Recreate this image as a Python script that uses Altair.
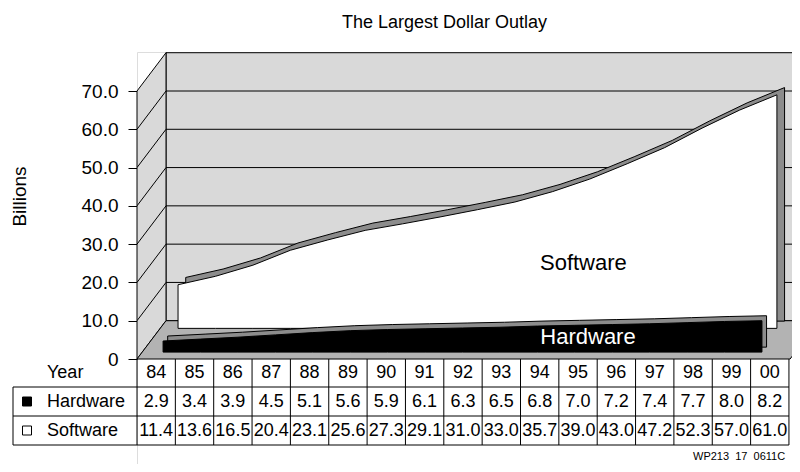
import altair as alt
import pandas as pd

# ---------------- data ----------------
years = ["84", "85", "86", "87", "88", "89", "90", "91", "92", "93",
         "94", "95", "96", "97", "98", "99", "00"]
hardware = [2.9, 3.4, 3.9, 4.5, 5.1, 5.6, 5.9, 6.1, 6.3, 6.5, 6.8, 7.0, 7.2, 7.4, 7.7, 8.0, 8.2]
software = [11.4, 13.6, 16.5, 20.4, 23.1, 25.6, 27.3, 29.1, 31.0, 33.0, 35.7, 39.0, 43.0,
            47.2, 52.3, 57.0, 61.0]
row_labels = ["Year", "Hardware", "Software"]
y_ticks = [0, 10, 20, 30, 40, 50, 60, 70]
title_text = "The Largest Dollar Outlay"
y_title = "Billions"
footer_text = "WP213\u00a0\u00a017\u00a0\u00a00611C"

# ---------------- layout (pixel geometry expressed in data units) ----------------
FONT = "Liberation Sans"
COL_PX = 38.35                 # one table column
UNIT_PX = 268.0 / 70.0         # pixels per billion on the front axis
PLOT_W, PLOT_H = 655, 412
X_MAX = PLOT_W / COL_PX
Y_TOP = 307.0 / UNIT_PX
Y_BOT = Y_TOP - PLOT_H / UNIT_PX
DEPTH_X = 29.0 / COL_PX        # 3-D depth offset
DEPTH_Y = 10.0
N = len(years)
STEP = 0.976                   # spacing of categories in the 3-D plot
FLOOR_X = 17.03
TABLE_LEFT = -124.0 / COL_PX
ROW_EDGES = [0.0, -28.0 / UNIT_PX, -57.0 / UNIT_PX, -86.0 / UNIT_PX]
ROW_MID = [(ROW_EDGES[k] + ROW_EDGES[k + 1]) / 2 for k in range(3)]
LABEL_X = -90.0 / COL_PX
MARK_X = -110.0 / COL_PX

xs = alt.Scale(domain=[0, X_MAX], nice=False, zero=False)
ys = alt.Scale(domain=[Y_BOT, Y_TOP], nice=False, zero=False)

yaxis = alt.Axis(values=y_ticks,
                 labelExpr="datum.value == 0 ? '0' : format(datum.value, '.1f')",
                 tickSize=9, tickColor="black", tickWidth=1, domain=False, grid=False,
                 labelFontSize=19, labelColor="black", labelPadding=10, labelFont=FONT,
                 labelFlush=False, labelOverlap=False,
                 title=y_title, titleFont=FONT, titleFontSize=19, titleFontWeight="normal",
                 titleColor="black", titleX=-112, titleY=144, titleAngle=270,
                 titleAlign="center", titleBaseline="alphabetic")


def X(f):
    return alt.X(f, type="quantitative", scale=xs, axis=None)


def Y(f):
    return alt.Y(f, type="quantitative", scale=ys, axis=yaxis)


# ---------------- walls ----------------
wall_df = pd.DataFrame([{"x": DEPTH_X, "x2": X_MAX + 1, "y": DEPTH_Y, "y2": 70 + DEPTH_Y}])
back_wall = alt.Chart(wall_df).mark_rect(fill="#d9d9d9", stroke="black", strokeWidth=1, clip=True).encode(
    x=X("x"), x2="x2", y=Y("y"), y2="y2")

side_df = pd.DataFrame([{"x": 0.0, "y": 0.0, "y2": 70.0},
                        {"x": DEPTH_X, "y": DEPTH_Y, "y2": 70 + DEPTH_Y}])
side_wall = alt.Chart(side_df).mark_area(fill="#d9d9d9", stroke="black", strokeWidth=1).encode(
    x=X("x"), y=Y("y"), y2="y2")

grid_rows = []
for v in y_ticks[1:7]:
    grid_rows.append({"x": DEPTH_X, "x2": X_MAX + 1, "y": v + DEPTH_Y, "y2": v + DEPTH_Y})
    grid_rows.append({"x": 0.0, "x2": DEPTH_X, "y": v, "y2": v + DEPTH_Y})
grid = alt.Chart(pd.DataFrame(grid_rows)).mark_rule(color="black", strokeWidth=1, clip=True).encode(
    x=X("x"), x2="x2", y=Y("y"), y2="y2")

floor_df = pd.DataFrame([{"y": 0.0, "x": 0.0, "x2": FLOOR_X},
                         {"y": DEPTH_Y, "x": DEPTH_X, "x2": FLOOR_X + DEPTH_X}])
floor = alt.Chart(floor_df).mark_area(orient="horizontal", fill="#b3b3b3", stroke="black",
                                      strokeWidth=1, clip=True).encode(
    y=Y("y"), x=X("x"), x2="x2")


# ---------------- 3-D ribbons ----------------
def ribbon(values, x0, base, dx, dy, front_fill):
    rows = []
    for i, v in enumerate(values):
        x = x0 + i * STEP
        rows.append({"x": x, "lo": base, "hi": base + v,
                     "xb": x + dx, "lob": base + dy, "hib": base + v + dy})
    df = pd.DataFrame(rows)
    back = alt.Chart(df).mark_area(fill="#8c8c8c", stroke="black", strokeWidth=1).encode(
        x=X("xb"), y=Y("hib"), y2="lob")
    front = alt.Chart(df).mark_area(fill=front_fill, stroke="black", strokeWidth=1).encode(
        x=X("x"), y=Y("hi"), y2="lo")
    return back, front


sw_back, sw_front = ribbon(software, 1.07, 8.0, 0.2, 1.9, "white")
hw_back, hw_front = ribbon(hardware, 0.68, 1.8, 0.12, 1.3, "black")

series_lbl_df = pd.DataFrame([
    {"x": 11.64, "y": (359 - 270) / UNIT_PX, "t": "Software", "c": "black"},
    {"x": 11.76, "y": (359 - 344) / UNIT_PX, "t": "Hardware", "c": "white"},
])
series_lbl = alt.Chart(series_lbl_df).mark_text(fontSize=22, font=FONT, align="center",
                                               baseline="alphabetic").encode(
    x=X("x"), y=Y("y"), text="t:N", color=alt.Color("c:N", scale=None))

title_df = pd.DataFrame([{"x": 307.5 / COL_PX, "y": (359 - 28) / UNIT_PX, "t": title_text}])
title = alt.Chart(title_df).mark_text(fontSize=18, font=FONT, align="center",
                                      baseline="alphabetic", color="black").encode(
    x=X("x"), y=Y("y"), text="t:N")

# ---------------- data table ----------------
tab_rules = []
for k in range(1, 4):
    tab_rules.append({"x": TABLE_LEFT, "x2": float(N), "y": ROW_EDGES[k], "y2": ROW_EDGES[k]})
tab_rules.append({"x": TABLE_LEFT, "x2": TABLE_LEFT, "y": ROW_EDGES[1], "y2": ROW_EDGES[3]})
for i in range(N + 1):
    tab_rules.append({"x": float(i), "x2": float(i), "y": ROW_EDGES[0], "y2": ROW_EDGES[3]})
table_lines = alt.Chart(pd.DataFrame(tab_rules)).mark_rule(color="black", strokeWidth=1).encode(
    x=X("x"), x2="x2", y=Y("y"), y2="y2")

cells = []
for i in range(N):
    cells.append({"x": i + 0.5, "y": ROW_MID[0], "t": years[i]})
    cells.append({"x": i + 0.5, "y": ROW_MID[1], "t": f"{hardware[i]:.1f}"})
    cells.append({"x": i + 0.5, "y": ROW_MID[2], "t": f"{software[i]:.1f}"})
cell_text = alt.Chart(pd.DataFrame(cells)).mark_text(fontSize=18, font=FONT, align="center",
                                                     baseline="middle", color="black").encode(
    x=X("x"), y=Y("y"), text="t:N")

row_df = pd.DataFrame([{"x": LABEL_X, "y": ROW_MID[k], "t": row_labels[k]} for k in range(3)])
row_text = alt.Chart(row_df).mark_text(fontSize=18, font=FONT, align="left", baseline="middle",
                                       color="black").encode(
    x=X("x"), y=Y("y"), text="t:N")

mk_df = pd.DataFrame([{"x": MARK_X, "y": ROW_MID[1], "f": "black"},
                      {"x": MARK_X, "y": ROW_MID[2], "f": "white"}])
markers = alt.Chart(mk_df).mark_point(shape="square", filled=True, size=81, stroke="black",
                                      strokeWidth=1, opacity=1).encode(
    x=X("x"), y=Y("y"), fill=alt.Fill("f:N", scale=None))

foot_df = pd.DataFrame([{"x": 556.0 / COL_PX, "y": (359 - 460) / UNIT_PX, "t": footer_text}])
foot = alt.Chart(foot_df).mark_text(fontSize=11, font=FONT, align="left", baseline="alphabetic",
                                    color="black").encode(
    x=X("x"), y=Y("y"), text="t:N")

chart = alt.layer(
    back_wall, side_wall, grid, floor,
    sw_back, sw_front, hw_back, hw_front, series_lbl, title,
    table_lines, cell_text, row_text, markers, foot,
).properties(
    width=PLOT_W, height=PLOT_H,
    autosize=alt.AutoSizeParams(type="none"),
    padding={"left": 129, "top": 44, "right": 0, "bottom": 0},
).configure_view(stroke=None).configure(background="white", font=FONT)

chart.save("out.html", embed_options={"renderer": "svg", "actions": False})
